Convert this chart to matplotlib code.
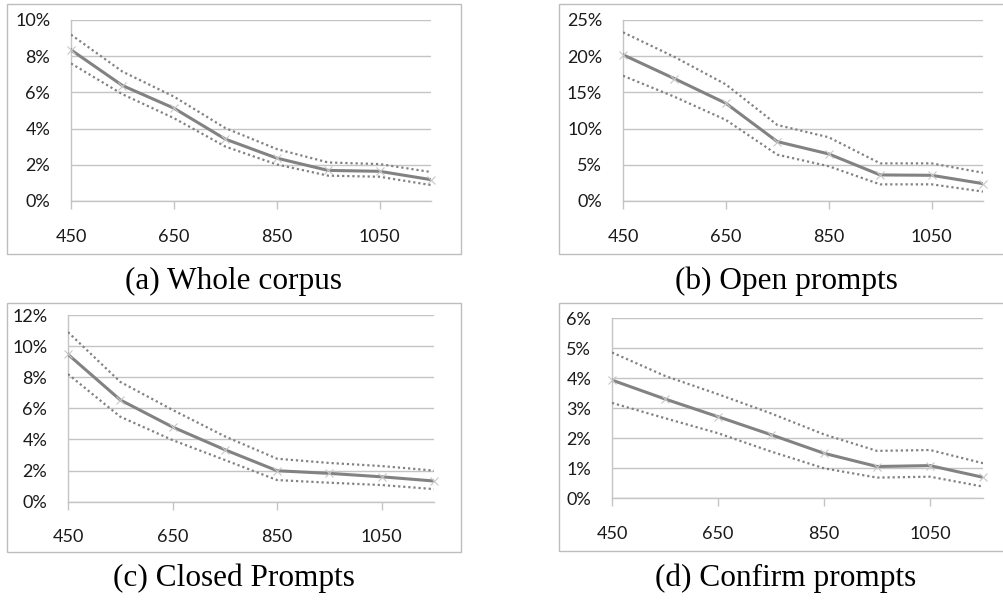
import matplotlib
matplotlib.use("Agg")
import matplotlib.pyplot as plt
from matplotlib.patches import Rectangle
from matplotlib.ticker import FuncFormatter, FixedLocator

# Utterance length buckets (ms)
lengths = [450, 550, 650, 750, 850, 950, 1050, 1150]
tick_lengths = [450, 650, 850, 1050]

# Error rate (%) with lower / upper confidence bounds
whole_mean = [8.35, 6.38, 5.13, 3.42, 2.37, 1.69, 1.64, 1.18]
whole_upper = [9.19, 7.15, 5.77, 4.03, 2.87, 2.13, 2.04, 1.60]
whole_lower = [7.60, 5.90, 4.58, 3.01, 2.02, 1.40, 1.34, 0.88]

open_mean = [20.2, 16.9, 13.5, 8.2, 6.5, 3.6, 3.55, 2.4]
open_upper = [23.3, 19.9, 16.1, 10.5, 8.8, 5.2, 5.2, 3.9]
open_lower = [17.3, 14.4, 11.2, 6.4, 4.8, 2.3, 2.3, 1.3]

closed_mean = [9.47, 6.54, 4.80, 3.34, 1.99, 1.82, 1.60, 1.33]
closed_upper = [10.9, 7.7, 5.9, 4.2, 2.76, 2.49, 2.29, 2.00]
closed_lower = [8.2, 5.46, 3.96, 2.68, 1.39, 1.22, 1.07, 0.81]

confirm_mean = [3.94, 3.31, 2.72, 2.12, 1.50, 1.06, 1.09, 0.70]
confirm_upper = [4.86, 4.08, 3.47, 2.83, 2.13, 1.58, 1.61, 1.17]
confirm_lower = [3.18, 2.67, 2.17, 1.56, 1.00, 0.69, 0.72, 0.39]

captions = ["(a) Whole corpus", "(b) Open prompts", "(c) Closed Prompts", "(d) Confirm prompts"]

W, H = 1004, 603
fig = plt.figure(figsize=(W / 100, H / 100), dpi=100)
fig.patch.set_facecolor("white")


def px_axes(x0, x1, ytop, ybot):
    return fig.add_axes([x0 / W, 1 - ybot / H, (x1 - x0) / W, (ybot - ytop) / H])


panels = [
    dict(box=(7, 4, 461, 254), ax=(71, 431, 20, 201), ymax=10, step=2,
         data=(whole_mean, whole_upper, whole_lower), cap=(234, 281)),
    dict(box=(559, 4, 1010, 254), ax=(623, 983, 20, 201), ymax=25, step=5,
         data=(open_mean, open_upper, open_lower), cap=(786, 281)),
    dict(box=(7, 303, 461, 552), ax=(68, 434, 315, 501.7), ymax=12, step=2,
         data=(closed_mean, closed_upper, closed_lower), cap=(234, 578)),
    dict(box=(559, 303, 1010, 551), ax=(612, 983, 318.3, 498.3), ymax=6, step=1,
         data=(confirm_mean, confirm_upper, confirm_lower), cap=(786, 578)),
]

line_grey = "#828282"
grid_grey = "#c4c4c4"
frame_grey = "#bdbdbd"

for p, cap in zip(panels, captions):
    bx0, by0, bx1, by1 = p["box"]
    fig.patches.append(Rectangle((bx0 / W, 1 - by1 / H), (bx1 - bx0) / W, (by1 - by0) / H,
                                 transform=fig.transFigure, fill=False,
                                 edgecolor=frame_grey, linewidth=1.0))
    ax = px_axes(*p["ax"])
    mean, upper, lower = p["data"]
    ax.plot(lengths, upper, color=line_grey, linewidth=1.6,
            linestyle=(0, (1, 1.3)), dash_capstyle="butt", zorder=3)
    ax.plot(lengths, lower, color=line_grey, linewidth=1.6,
            linestyle=(0, (1, 1.3)), dash_capstyle="butt", zorder=3)
    ax.plot(lengths, mean, color=line_grey, linewidth=2.2, zorder=4,
            solid_joinstyle="round")
    ax.plot(lengths, mean, linestyle="none", marker="x", markersize=6,
            markeredgewidth=0.8, color="#c8c8c8", zorder=5, clip_on=False)

    ax.set_xlim(lengths[0], lengths[-1])
    ax.set_ylim(0, p["ymax"])
    yt = list(range(0, p["ymax"] + 1, p["step"]))
    ax.yaxis.set_major_locator(FixedLocator(yt))
    ax.yaxis.set_major_formatter(FuncFormatter(lambda v, pos: f"{v:.0f}%"))
    ax.xaxis.set_major_locator(FixedLocator(tick_lengths))
    ax.grid(axis="y", color=grid_grey, linewidth=1.0)
    ax.set_axisbelow(True)
    for s in ["top", "right"]:
        ax.spines[s].set_visible(False)
    for s in ["left", "bottom"]:
        ax.spines[s].set_color(grid_grey)
        ax.spines[s].set_linewidth(1.0)
    ax.tick_params(axis="x", direction="out", length=6, width=1.0, color=grid_grey,
                   pad=14, labelsize=13, labelcolor="#1a1a1a")
    ax.tick_params(axis="y", length=0, pad=15, labelsize=13, labelcolor="#1a1a1a")
    for lab in ax.get_xticklabels() + ax.get_yticklabels():
        lab.set_fontfamily("Lato")
    ax.set_facecolor("none")

    cx, cy = p["cap"]
    fig.text(cx / W, 1 - cy / H, cap, ha="center", va="center",
             fontfamily="Liberation Serif", fontsize=22.5, color="black")

fig.savefig("out.png", dpi=100, facecolor="white")
